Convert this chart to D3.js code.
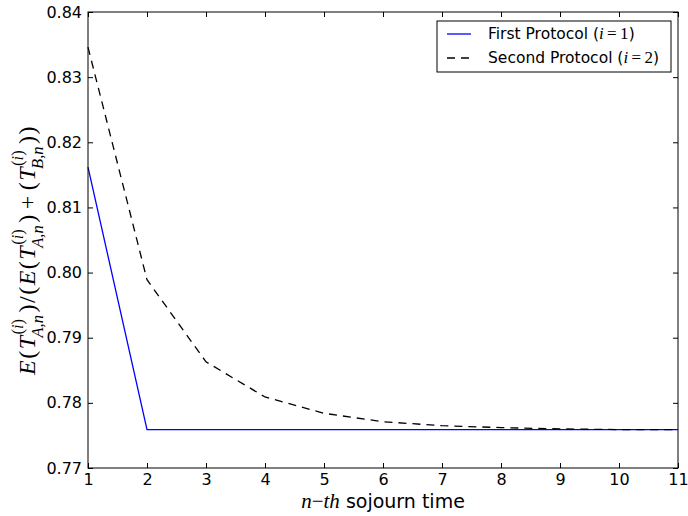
<!DOCTYPE html>
<html>
<head>
<meta charset="utf-8">
<script src="https://cdn.jsdelivr.net/npm/d3@7"></script>
<style>
  body { margin: 0; background: #fff; }
  text { font-family: "DejaVu Sans", sans-serif; }
  .math { font-family: "Liberation Serif", "DejaVu Serif", serif; }
</style>
</head>
<body>
<div class="canvas"></div>
<script>
// data
const sojourn = [1, 2, 3, 4, 5, 6, 7, 8, 9, 10, 11];
const firstProtocol = [0.8162, 0.7759, 0.7759, 0.7759, 0.7759, 0.7759, 0.7759, 0.7759, 0.7759, 0.7759, 0.7759];
const secondProtocol = [0.8346, 0.7989, 0.7863, 0.7809, 0.7784, 0.7771, 0.7765, 0.7762, 0.7760, 0.7759, 0.7759];
const yTicks = [0.77, 0.78, 0.79, 0.80, 0.81, 0.82, 0.83, 0.84];
const xTicks = [1, 2, 3, 4, 5, 6, 7, 8, 9, 10, 11];
const seriesNames = ['First Protocol', 'Second Protocol'];

const width = 688, height = 516;
const margin = {top: 12, right: 10, bottom: 48, left: 88};
const graphWidth = width - margin.left - margin.right;
const graphHeight = height - margin.top - margin.bottom;

const svg = d3.select('.canvas')
    .append('svg')
        .attr('width', width)
        .attr('height', height);

const graph = svg.append('g')
    .attr('transform', `translate(${margin.left}, ${margin.top})`);

const x = d3.scaleLinear().domain([1, 11]).range([0, graphWidth]);
const y = d3.scaleLinear().domain([0.77, 0.84]).range([graphHeight, 0]);

// lines
const line = d3.line()
    .x((d, i) => x(sojourn[i]))
    .y(d => y(d));

graph.append('path')
    .attr('d', line(firstProtocol))
    .attr('fill', 'none')
    .attr('stroke', '#0000ff')
    .attr('stroke-width', 1.3);

graph.append('path')
    .attr('d', line(secondProtocol))
    .attr('fill', 'none')
    .attr('stroke', '#000')
    .attr('stroke-width', 1.3)
    .attr('stroke-dasharray', '8,6');

// axes, ticks inside on all sides
const axisStyle = g => {
    g.select('.domain').remove();
    g.selectAll('.tick line').attr('stroke', '#000');
    g.selectAll('.tick text').attr('font-size', 16).attr('fill', '#000')
        .attr('font-family', 'DejaVu Sans, sans-serif');
};

graph.append('g')
    .attr('transform', `translate(0,${graphHeight})`)
    .call(d3.axisBottom(x).tickValues(xTicks).tickSizeInner(-5).tickSizeOuter(0).tickPadding(6))
    .call(axisStyle);
graph.append('g')
    .call(d3.axisTop(x).tickValues(xTicks).tickSizeInner(-5).tickSizeOuter(0).tickFormat(''))
    .call(axisStyle);
graph.append('g')
    .call(d3.axisLeft(y).tickValues(yTicks).tickSizeInner(-5).tickSizeOuter(0).tickPadding(6).tickFormat(d3.format('.2f')))
    .call(axisStyle);
graph.append('g')
    .attr('transform', `translate(${graphWidth},0)`)
    .call(d3.axisRight(y).tickValues(yTicks).tickSizeInner(-5).tickSizeOuter(0).tickFormat(''))
    .call(axisStyle);

graph.append('rect')
    .attr('width', graphWidth)
    .attr('height', graphHeight)
    .attr('fill', 'none')
    .attr('stroke', '#000')
    .attr('stroke-width', 1);

// x label
const xl = svg.append('text')
    .attr('x', margin.left + graphWidth / 2)
    .attr('y', 508)
    .attr('text-anchor', 'middle')
    .attr('font-size', 19);
xl.append('tspan').attr('class', 'math').attr('font-style', 'italic').attr('font-size', 21).text('n');
xl.append('tspan').attr('class', 'math').attr('font-size', 21).text('\u2212');
xl.append('tspan').attr('class', 'math').attr('font-style', 'italic').attr('font-size', 21).text('th');
xl.append('tspan').text(' sojourn time');

// y label: tiny mathtext-like layout, pieces placed along a baseline
const yl = svg.append('g');
const big = 24, small = 16.5, gap = 1.5;
let cursor = 0;
const put = (txt, opt = {}) => {
    const t = yl.append('text')
        .attr('class', 'math')
        .attr('x', cursor)
        .attr('y', opt.dy || 0)
        .attr('font-size', opt.size || big)
        .attr('font-style', opt.italic ? 'italic' : 'normal')
        .text(txt);
    return t.node().getComputedTextLength();
};
const adv = (txt, opt) => { cursor += put(txt, opt) + gap; };
const termT = sub => {
    adv('T', {italic: true});
    const start = cursor;
    let w1 = 0;
    w1 += put('(', {size: small, dy: -12}); cursor = start + w1;
    w1 += put('i', {size: small, dy: -12, italic: true}); cursor = start + w1;
    w1 += put(')', {size: small, dy: -12});
    cursor = start - 3;
    const w2 = put(sub, {size: small, dy: 8, italic: true}) - 3;
    cursor = start + Math.max(w1, w2) + gap + 1;
};
adv('E', {italic: true});
adv('(');
termT('A,n');
adv(')');
adv('/');
adv('(');
adv('E', {italic: true});
adv('(');
termT('A,n');
adv(')');
cursor += 4;
adv('+');
cursor += 4;
adv('(');
termT('B,n');
adv(')');
adv(')');
yl.attr('transform', `translate(35, ${250 + cursor / 2}) rotate(-90)`);

// legend
const legend = svg.append('g').attr('transform', 'translate(437, 21)');
legend.append('rect')
    .attr('width', 234)
    .attr('height', 51)
    .attr('fill', '#fff')
    .attr('stroke', '#000');

const legendStyle = [
    {num: '1', color: '#0000ff', dash: null},
    {num: '2', color: '#000', dash: '8,6'}
];
seriesNames.forEach((name, i) => {
    const e = legendStyle[i];
    const g = legend.append('g').attr('transform', `translate(0, ${13 + i * 24})`);
    g.append('line')
        .attr('x1', 10).attr('x2', 34)
        .attr('stroke', e.color)
        .attr('stroke-width', 1.3)
        .attr('stroke-dasharray', e.dash);
    const t = g.append('text')
        .attr('x', 51)
        .attr('y', 5)
        .attr('font-size', 15.5);
    t.append('tspan').text(name + ' (');
    t.append('tspan').attr('class', 'math').attr('font-style', 'italic').attr('font-size', 17).text('i');
    t.append('tspan').attr('class', 'math').attr('font-size', 17).text('\u2009=\u2009' + e.num);
    t.append('tspan').text(')');
});
</script>
</body>
</html>
